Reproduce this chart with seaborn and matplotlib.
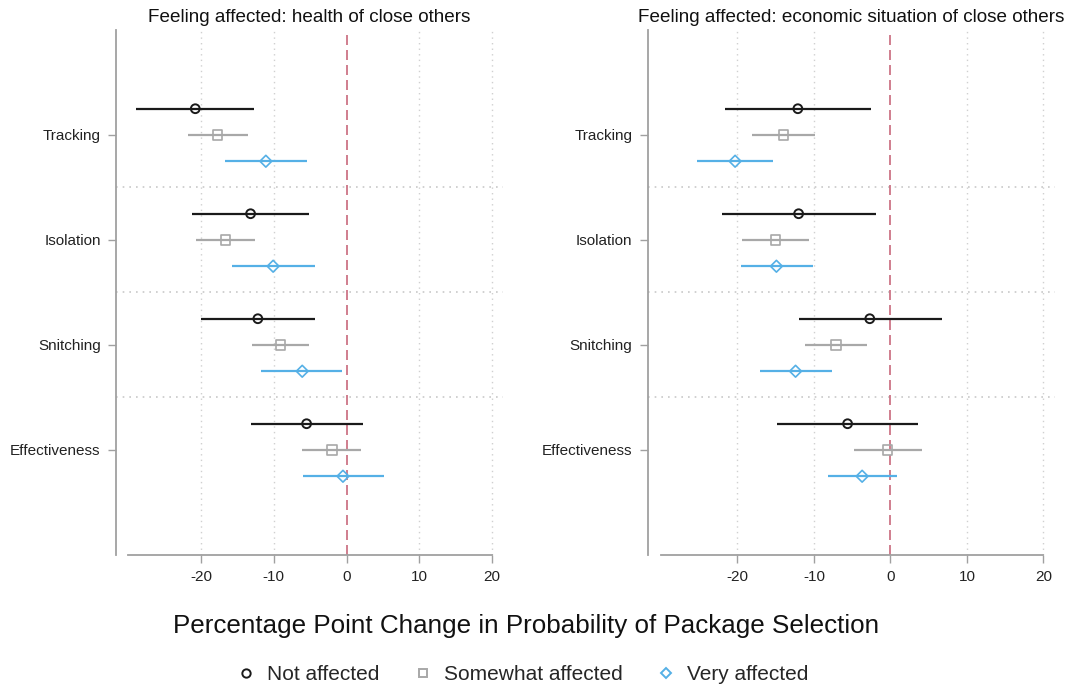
import numpy as np
import pandas as pd
import seaborn as sns
import matplotlib.pyplot as plt
from matplotlib.lines import Line2D

categories = ["Tracking", "Isolation", "Snitching", "Effectiveness"]
groups = ["Not affected", "Somewhat affected", "Very affected"]

# estimates and 95% CIs, ordered category x group (Not, Somewhat, Very)
health_est = [-20.8, -17.8, -11.1, -13.2, -16.7, -10.1, -12.2, -9.1, -6.1, -5.5, -2.0, -0.5]
health_lo = [-28.9, -21.8, -16.7, -21.2, -20.7, -15.8, -20.0, -13.0, -11.7, -13.1, -6.1, -6.0]
health_hi = [-12.7, -13.6, -5.5, -5.1, -12.6, -4.3, -4.4, -5.1, -0.6, 2.2, 2.0, 5.1]

econ_est = [-12.1, -14.0, -20.3, -12.0, -15.0, -14.9, -2.7, -7.1, -12.4, -5.6, -0.4, -3.7]
econ_lo = [-21.6, -18.1, -25.3, -22.0, -19.4, -19.5, -12.0, -11.2, -17.0, -14.8, -4.8, -8.2]
econ_hi = [-2.6, -9.8, -15.3, -1.9, -10.6, -10.1, 6.8, -3.0, -7.6, 3.6, 4.1, 0.9]

panel_titles = ["Feeling affected: health of close others",
                "Feeling affected: economic situation of close others"]
x_ticks = [-20, -10, 0, 10, 20]

colors = ["#1a1a1a", "#a8a8a8", "#55b0e6"]
markers = ["o", "s", "D"]
sizes = [40, 44, 36]
offsets = [-0.25, 0.0, 0.25]


def build_frame(est, lo, hi):
    rows = []
    for k in range(len(est)):
        ci, gi = divmod(k, len(groups))
        rows.append({"category": categories[ci], "group": groups[gi],
                     "ypos": ci + 1 + offsets[gi],
                     "est": est[k], "lo": lo[k], "hi": hi[k]})
    return pd.DataFrame(rows)


frames = [build_frame(health_est, health_lo, health_hi),
          build_frame(econ_est, econ_lo, econ_hi)]

sns.set_style("white")
plt.rcParams["font.family"] = ["Liberation Sans", "DejaVu Sans"]

fig = plt.figure(figsize=(10.78, 6.89), dpi=100)
axes = [fig.add_axes([0.1076, 0.1945, 0.359, 0.762]),
        fig.add_axes([0.601, 0.1945, 0.3776, 0.762])]

spine_col = "#a0a0a0"
for ax, df, title in zip(axes, frames, panel_titles):
    # grid and reference lines
    for xv in x_ticks:
        if xv != 0:
            ax.axvline(xv, color="#d0d0d0", lw=1, ls=(0, (1, 3)), zorder=0)
    for yv in [1.5, 2.5, 3.5]:
        ax.axhline(yv, color="#c8c8c8", lw=1.2, ls=(0, (1, 3)), zorder=0)
    ax.axvline(0, color="#c8687c", lw=1.2, ls=(0, (6, 3)), zorder=1)

    for g, c, m, s in zip(groups, colors, markers, sizes):
        sub = df[df["group"] == g]
        ax.hlines(sub["ypos"], sub["lo"], sub["hi"], color=c, lw=1.6, zorder=2)
        sns.scatterplot(data=sub, x="est", y="ypos", marker=m, s=s,
                        color=c, facecolor="none", edgecolor=c,
                        linewidth=1.4 if g == groups[0] else 1.2,
                        ax=ax, legend=False, zorder=3)

    ax.set_xlim(-31.7, 21.5)
    ax.set_ylim(5, 0)
    ax.set_xticks(x_ticks)
    ax.set_xticklabels([str(v) for v in x_ticks], fontsize=11)
    ax.set_yticks(range(1, len(categories) + 1))
    ax.set_yticklabels(categories, fontsize=11)
    ax.set_xlabel("")
    ax.set_ylabel("")
    ax.tick_params(axis="both", length=6, width=1, color=spine_col,
                   colors="#222222", pad=5, bottom=True, left=True)
    ax.tick_params(axis="both", color=spine_col)
    sns.despine(ax=ax)
    for side in ["left", "bottom"]:
        ax.spines[side].set_color(spine_col)
        ax.spines[side].set_linewidth(1.3)
    ax.spines["bottom"].set_bounds(-30, 20)
    ax.set_title(title, fontsize=13.6, pad=6, color="#111111")

fig.text(0.488, 1 - 626 / 689,
         "Percentage Point Change in Probability of Package Selection",
         ha="center", va="center", fontsize=18.7, color="#111111")

handles = [Line2D([], [], marker=m, linestyle="none", markerfacecolor="none",
                  markeredgecolor=c, markersize=6 if m != "D" else 5.5,
                  markeredgewidth=1.4)
           for m, c in zip(markers, colors)]
fig.legend(handles, groups, loc="center", bbox_to_anchor=(0.484, 1 - 675 / 689),
           ncol=3, frameon=False, fontsize=15, handlelength=1,
           handletextpad=0.5, columnspacing=1.6)

fig.savefig("out.png", dpi=100)
